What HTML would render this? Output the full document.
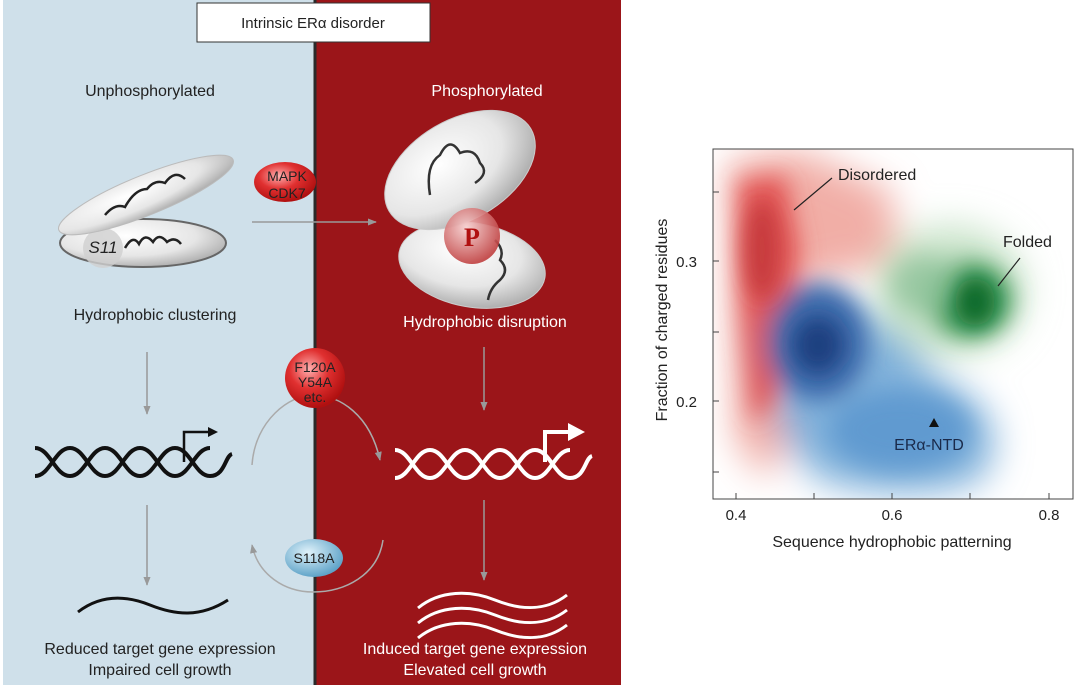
<!DOCTYPE html>
<html><head><meta charset="utf-8"><style>
html,body{margin:0;padding:0;background:#fff;}
svg{display:block;font-family:"Liberation Sans",Arial,sans-serif;}
</style></head><body>
<svg width="1080" height="689" viewBox="0 0 1080 689" xmlns="http://www.w3.org/2000/svg">
<defs>
<filter id="b12" x="-50%" y="-50%" width="200%" height="200%"><feGaussianBlur stdDeviation="12"/></filter>
<filter id="b18" x="-50%" y="-50%" width="200%" height="200%"><feGaussianBlur stdDeviation="18"/></filter>
<filter id="b8" x="-50%" y="-50%" width="200%" height="200%"><feGaussianBlur stdDeviation="10"/></filter>
<radialGradient id="shell" cx="40%" cy="35%" r="70%"><stop offset="0" stop-color="#ffffff"/><stop offset="0.6" stop-color="#e6e6e6"/><stop offset="1" stop-color="#a9a9a9"/></radialGradient>
<radialGradient id="redball" cx="40%" cy="35%" r="65%"><stop offset="0" stop-color="#ffb0b0"/><stop offset="0.5" stop-color="#e03030"/><stop offset="1" stop-color="#b01010"/></radialGradient>
<radialGradient id="pball" cx="40%" cy="35%" r="65%"><stop offset="0" stop-color="#f7d0d0"/><stop offset="1" stop-color="#c04040"/></radialGradient>
<radialGradient id="blueball" cx="40%" cy="35%" r="65%"><stop offset="0" stop-color="#e0f2fa"/><stop offset="1" stop-color="#5fa3c8"/></radialGradient>
<marker id="ag" viewBox="0 0 10 10" refX="9" refY="5" markerWidth="6" markerHeight="6" orient="auto"><path d="M0,1 L10,5 L0,9 z" fill="#999"/></marker>
<clipPath id="plotclip"><rect x="713" y="149" width="360" height="350"/></clipPath>
</defs>

<rect x="3" y="0" width="313" height="685" fill="#cfe0ea"/>
<rect x="316" y="0" width="305" height="685" fill="#9b1519"/>
<line x1="315" y1="0" x2="315" y2="685" stroke="#2a2a2a" stroke-width="3"/>

<rect x="197" y="3" width="233" height="39" fill="#fff" stroke="#333" stroke-width="1"/>
<text x="313" y="28" font-size="15" text-anchor="middle" fill="#222">Intrinsic ERα disorder</text>

<text x="150" y="96" font-size="16" text-anchor="middle" fill="#222">Unphosphorylated</text>
<text x="487" y="96" font-size="16" text-anchor="middle" fill="#fff">Phosphorylated</text>

<ellipse cx="143" cy="243" rx="83" ry="24" fill="url(#shell)" stroke="#666" stroke-width="2"/>
<circle cx="103" cy="248" r="20" fill="#cfcfcf" opacity="0.8"/>
<text x="103" y="253" font-size="17" fill="#222" text-anchor="middle" font-style="italic">S11</text>
<path d="M125,248 q8,-14 14,-4 q6,-12 14,-2 q6,-10 14,0 q8,-6 14,2" fill="none" stroke="#222" stroke-width="2.5"/>
<ellipse cx="146" cy="195" rx="94" ry="20" transform="rotate(-22 146 195)" fill="url(#shell)" stroke="#bbb"/>
<path d="M105,215 q10,-12 20,-8 q10,-18 22,-18 q8,-10 18,-6 q10,-14 20,-4" fill="none" stroke="#222" stroke-width="2.5"/>

<line x1="252" y1="222" x2="376" y2="222" stroke="#999" stroke-width="1.5" marker-end="url(#ag)"/>
<ellipse cx="285" cy="182" rx="31" ry="20" fill="url(#redball)"/>
<text x="287" y="181" font-size="14" text-anchor="middle" fill="#222">MAPK</text>
<text x="287" y="198" font-size="14" text-anchor="middle" fill="#222">CDK7</text>

<ellipse cx="472" cy="265" rx="74" ry="42" transform="rotate(10 472 265)" fill="url(#shell)" stroke="#ccc"/>
<ellipse cx="460" cy="170" rx="82" ry="50" transform="rotate(-30 460 170)" fill="url(#shell)" stroke="#ccc"/>
<path d="M430,195 q-5,-30 10,-40 q10,-20 20,-2 q15,-6 20,10 q10,10 -5,20" fill="none" stroke="#333" stroke-width="2.5"/>
<path d="M495,240 q10,10 5,20 q10,10 0,20 q-10,8 -12,20" fill="none" stroke="#333" stroke-width="2.5"/>
<circle cx="472" cy="236" r="28" fill="url(#pball)" opacity="0.9"/>
<text x="472" y="246" font-size="26" font-weight="bold" font-family="Liberation Serif,serif" text-anchor="middle" fill="#b01010">P</text>

<text x="155" y="320" font-size="16" text-anchor="middle" fill="#222">Hydrophobic clustering</text>
<text x="485" y="327" font-size="16" text-anchor="middle" fill="#fff">Hydrophobic disruption</text>

<line x1="147" y1="352" x2="147" y2="414" stroke="#999" stroke-width="1.5" marker-end="url(#ag)"/>
<line x1="484" y1="347" x2="484" y2="410" stroke="#999" stroke-width="1.5" marker-end="url(#ag)"/>
<line x1="147" y1="505" x2="147" y2="585" stroke="#999" stroke-width="1.5" marker-end="url(#ag)"/>
<line x1="484" y1="500" x2="484" y2="580" stroke="#999" stroke-width="1.5" marker-end="url(#ag)"/>

<g fill="none" stroke="#111" stroke-width="4">
<path d="M35,448 c15,0 20,28 35,28 s20,-28 35,-28 s20,28 35,28 s20,-28 35,-28 s20,28 35,28 s15,-20 22,-22"/>
<path d="M35,476 c15,0 20,-28 35,-28 s20,28 35,28 s20,-28 35,-28 s20,28 35,28 s20,-28 35,-28"/>
</g>
<path d="M184,462 V432 H212" fill="none" stroke="#111" stroke-width="2.5"/>
<path d="M208,427 L218,432 L208,437 z" fill="#111"/>
<g fill="none" stroke="#fff" stroke-width="4">
<path d="M395,450 c15,0 20,28 35,28 s20,-28 35,-28 s20,28 35,28 s20,-28 35,-28 s20,28 35,28 s15,-20 22,-22"/>
<path d="M395,478 c15,0 20,-28 35,-28 s20,28 35,28 s20,-28 35,-28 s20,28 35,28 s20,-28 35,-28"/>
</g>
<path d="M545,462 V432 H572" fill="none" stroke="#fff" stroke-width="4"/>
<path d="M568,423 L585,432 L568,441 z" fill="#fff"/>

<path d="M252,465 C255,420 290,395 313,395 C340,395 370,415 380,460" fill="none" stroke="#aaa" stroke-width="1.5" marker-end="url(#ag)"/>
<path d="M383,540 C378,575 345,592 313,592 C285,592 258,575 252,545" fill="none" stroke="#aaa" stroke-width="1.5" marker-end="url(#ag)"/>
<circle cx="315" cy="378" r="30" fill="url(#redball)"/>
<text x="315" y="372" font-size="14" text-anchor="middle" fill="#222">F120A</text>
<text x="315" y="387" font-size="14" text-anchor="middle" fill="#222">Y54A</text>
<text x="315" y="402" font-size="14" text-anchor="middle" fill="#222">etc.</text>
<ellipse cx="314" cy="558" rx="29" ry="19" fill="url(#blueball)"/>
<text x="314" y="563" font-size="14" text-anchor="middle" fill="#222">S118A</text>

<path d="M78,612 C100,595 125,595 150,605 S200,618 228,600" fill="none" stroke="#111" stroke-width="3"/>
<g fill="none" stroke="#fff" stroke-width="3">
<path d="M418,608 C440,590 470,590 495,600 S545,612 567,595"/>
<path d="M418,623 C440,605 470,605 495,615 S545,627 567,610"/>
<path d="M418,638 C440,620 470,620 495,630 S545,642 567,625"/>
</g>

<text x="160" y="654" font-size="16" text-anchor="middle" fill="#222">Reduced target gene expression</text>
<text x="160" y="675" font-size="16" text-anchor="middle" fill="#222">Impaired cell growth</text>
<text x="475" y="654" font-size="16" text-anchor="middle" fill="#fff">Induced target gene expression</text>
<text x="475" y="675" font-size="16" text-anchor="middle" fill="#fff">Elevated cell growth</text>

<g clip-path="url(#plotclip)">
<g filter="url(#b18)">
<path d="M728,160 L800,150 L890,190 L900,260 L800,285 L790,440 L765,480 L735,440 Z" fill="#efa096" opacity="0.85"/>
<ellipse cx="950" cy="290" rx="75" ry="65" fill="#bcdcbc" opacity="0.8"/>
<path d="M770,300 C830,280 900,330 940,380 C990,400 1010,440 980,480 C940,500 860,495 820,480 C780,450 760,380 770,300 Z" fill="#7fb0da"/>
</g>
<g filter="url(#b12)">
<path d="M738,180 L785,175 L800,250 L775,400 L752,425 L740,300 Z" fill="#e04848" opacity="0.85"/>
<ellipse cx="818" cy="342" rx="50" ry="58" fill="#3e6aab"/>
<ellipse cx="900" cy="430" rx="70" ry="40" fill="#5c98cf" opacity="0.9"/>
<ellipse cx="970" cy="300" rx="42" ry="38" fill="#3f9a5a"/>
<ellipse cx="925" cy="285" rx="35" ry="30" fill="#8fc39a" opacity="0.8"/>
</g>
<g filter="url(#b8)">
<ellipse cx="818" cy="345" rx="25" ry="28" fill="#1e3f80"/>
<ellipse cx="975" cy="302" rx="20" ry="24" fill="#0c6a2c"/>
<ellipse cx="762" cy="250" rx="18" ry="50" fill="#c03238" opacity="0.8"/>
</g>
</g>
<rect x="713" y="149" width="360" height="350" fill="none" stroke="#444" stroke-width="1"/>
<g stroke="#444" stroke-width="1">
<line x1="736" y1="499" x2="736" y2="493"/><line x1="814" y1="499" x2="814" y2="493"/>
<line x1="892" y1="499" x2="892" y2="493"/><line x1="970" y1="499" x2="970" y2="493"/>
<line x1="1049" y1="499" x2="1049" y2="493"/>
<line x1="713" y1="192" x2="719" y2="192"/><line x1="713" y1="261" x2="719" y2="261"/>
<line x1="713" y1="332" x2="719" y2="332"/><line x1="713" y1="401" x2="719" y2="401"/>
<line x1="713" y1="472" x2="719" y2="472"/>
</g>
<g font-size="15" fill="#222" text-anchor="middle">
<text x="736" y="520">0.4</text><text x="892" y="520">0.6</text><text x="1049" y="520">0.8</text>
<text x="697" y="267" text-anchor="end">0.3</text><text x="697" y="407" text-anchor="end">0.2</text>
<text x="892" y="547" font-size="16">Sequence hydrophobic patterning</text>
<text transform="translate(667 320) rotate(-90)" font-size="16">Fraction of charged residues</text>
</g>
<line x1="794" y1="210" x2="832" y2="178" stroke="#222" stroke-width="1.2"/>
<text x="838" y="180" font-size="16" fill="#222">Disordered</text>
<line x1="998" y1="286" x2="1020" y2="258" stroke="#222" stroke-width="1.2"/>
<text x="1003" y="247" font-size="16" fill="#222">Folded</text>
<path d="M934,418 L939,427 L929,427 Z" fill="#111"/>
<text x="929" y="450" font-size="16" fill="#1a2a4a" text-anchor="middle">ERα-NTD</text>
</svg>
</body></html>
